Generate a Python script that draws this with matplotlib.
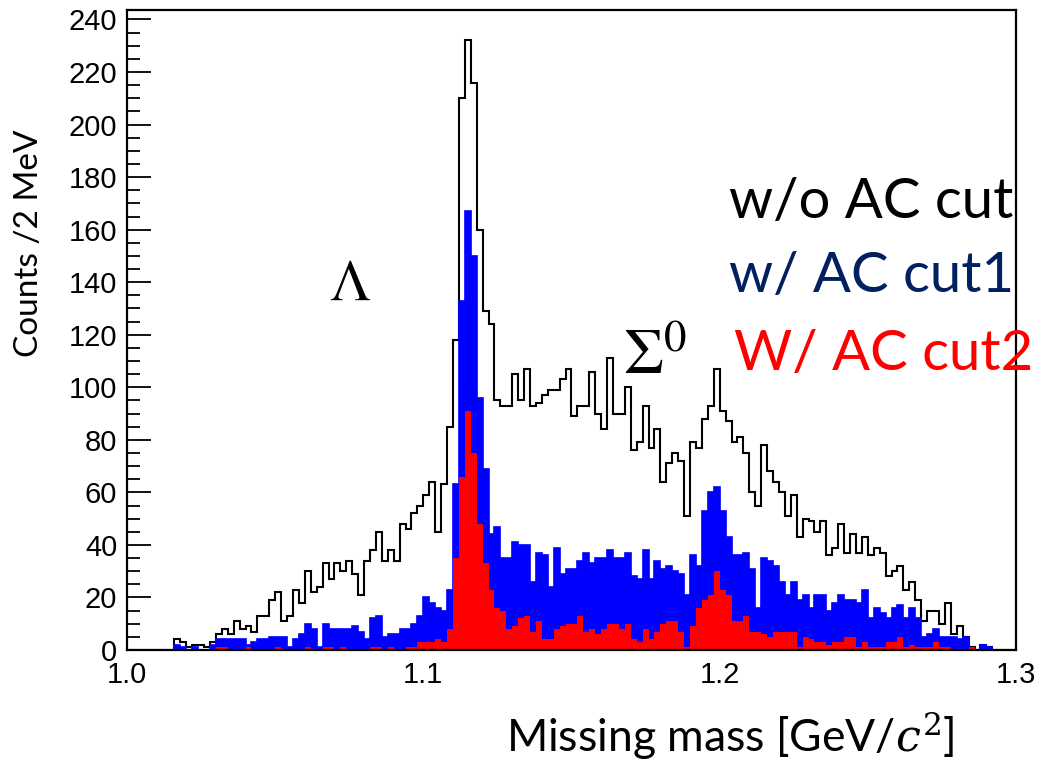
import numpy as np
import matplotlib
matplotlib.use("Agg")
import matplotlib.pyplot as plt

# ---- data: 2 MeV bins from 1.000 to 1.300 GeV/c^2 (150 bins) ----
x_min, x_max, bin_width = 1.0, 1.3, 0.002

counts_no_cut = [
    0, 0, 0, 0, 0, 0, 0, 0, 4, 3,
    1, 2, 2, 1, 3, 6, 8, 6, 11, 8,
    9, 7, 13, 13, 19, 22, 11, 13, 23, 18,
    30, 22, 24, 33, 27, 33, 30, 34, 29, 21,
    34, 38, 45, 34, 38, 34, 48, 46, 52, 55,
    59, 64, 45, 63, 85, 118, 210, 232, 216, 160,
    129, 124, 95, 93, 93, 105, 95, 107, 93, 94,
    97, 99, 99, 103, 107, 89, 93, 93, 106, 90,
    84, 111, 90, 90, 100, 76, 79, 93, 77, 84,
    64, 71, 75, 72, 51, 79, 77, 88, 93, 107,
    91, 87, 79, 81, 75, 60, 55, 78, 68, 64,
    60, 51, 59, 43, 50, 49, 45, 49, 36, 39,
    48, 37, 44, 37, 43, 36, 39, 37, 28, 30,
    32, 23, 26, 19, 11, 15, 15, 10, 18, 6,
    9, 5, 1, 0, 2, 1, 0, 0, 0, 0,
]

counts_cut1 = [
    0, 0, 0, 0, 0, 0, 0, 0, 2, 1,
    0, 1, 0, 0, 2, 4, 4, 4, 4, 4,
    2, 3, 4, 4, 5, 5, 5, 1, 4, 6,
    10, 8, 1, 10, 8, 8, 8, 8, 9, 7,
    4, 12, 13, 5, 6, 6, 8, 8, 10, 13,
    20, 18, 16, 15, 23, 63, 133, 167, 150, 96,
    69, 44, 47, 35, 35, 41, 40, 40, 26, 37,
    36, 24, 39, 29, 31, 31, 34, 37, 33, 35,
    35, 38, 35, 35, 37, 28, 27, 38, 27, 34,
    31, 32, 30, 29, 21, 36, 32, 53, 60, 62,
    53, 43, 36, 36, 37, 31, 16, 35, 34, 32,
    26, 21, 26, 19, 21, 16, 21, 21, 15, 18,
    21, 19, 19, 18, 23, 12, 16, 14, 12, 16,
    17, 12, 16, 12, 5, 6, 8, 5, 5, 5,
    4, 5, 0, 0, 2, 1, 0, 0, 0, 0,
]

counts_cut2 = [
    0, 0, 0, 0, 0, 0, 0, 0, 0, 0,
    0, 0, 0, 0, 0, 1, 1, 0, 0, 0,
    1, 0, 0, 0, 0, 1, 0, 0, 0, 0,
    1, 0, 0, 1, 1, 0, 1, 0, 0, 0,
    0, 1, 1, 0, 1, 0, 0, 1, 1, 3,
    3, 3, 4, 3, 8, 35, 66, 91, 75, 48,
    33, 23, 16, 15, 8, 9, 12, 13, 7, 11,
    4, 4, 8, 9, 10, 10, 13, 7, 8, 6,
    8, 10, 10, 8, 10, 4, 3, 8, 4, 7,
    10, 11, 11, 7, 1, 9, 16, 19, 21, 30,
    23, 21, 11, 11, 13, 7, 7, 6, 5, 7,
    7, 7, 7, 1, 5, 4, 3, 3, 2, 3,
    3, 5, 5, 1, 3, 1, 1, 1, 3, 3,
    5, 1, 2, 1, 1, 1, 3, 1, 1, 0,
    0, 0, 1, 0, 0, 0, 0, 0, 0, 0,
]

x_ticks = [1.0, 1.1, 1.2, 1.3]
x_tick_labels = ["1.0", "1.1", "1.2", "1.3"]
y_ticks = list(range(0, 241, 20))

legend_labels = ["w/o AC cut", "w/ AC cut1", "W/ AC cut2"]
legend_colors = ["black", "#002060", "#ff0000"]

# ---- figure ----
W, H = 1040, 762
fig = plt.figure(figsize=(W / 100, H / 100), dpi=100)

def fx(px):
    return px / W

def fy(py):
    return 1 - py / H

ax = fig.add_axes([fx(127), fy(650), fx(1016) - fx(127), fy(10) - fy(650)])

edges = np.linspace(x_min, x_max, len(counts_no_cut) + 1)

ax.stairs(counts_no_cut, edges, color="black", lw=1.5, zorder=2)
ax.stairs(counts_cut1, edges, fill=True, color="#0000ff", zorder=3)
ax.stairs(counts_cut1, edges, color="#0000ff", lw=1.2, zorder=3)
ax.stairs(counts_cut2, edges, fill=True, color="#ff0000", zorder=4)

ax.set_xlim(x_min, x_max)
ax.set_ylim(0, 1.05 * max(counts_no_cut))

tick_font = dict(family=["Liberation Sans", "DejaVu Sans"], size=21)
ax.set_xticks(x_ticks)
ax.set_xticklabels(x_tick_labels, fontdict=tick_font)
ax.set_yticks(y_ticks)
ax.set_yticklabels([str(v) for v in y_ticks], fontdict=tick_font)
ax.set_yticks(np.arange(0, 241, 5), minor=True)

ax.tick_params(axis="y", which="major", direction="in", length=17, width=1.3,
               pad=7, color="black")
ax.tick_params(axis="y", which="minor", direction="in", length=9, width=1.3,
               color="black")
ax.tick_params(axis="x", which="both", length=0, pad=8)

for side in ["left", "right", "top", "bottom"]:
    ax.spines[side].set_linewidth(1.6)
    ax.spines[side].set_color("black")
    ax.spines[side].set_zorder(5)

# ---- texts ----
label_font = ["Lato", "DejaVu Sans"]
fig.text(fx(29), fy(243), "Counts /2 MeV", rotation=90, ha="center",
         va="center", fontsize=24, family=label_font)
fig.text(fx(506), fy(752), r"Missing mass [GeV/$c^2$]", ha="left",
         va="baseline", fontsize=32, family=label_font,
         math_fontfamily="dejavuserif")

leg_y = [218, 292, 370]
leg_x = [729, 729, 734]
for lab, col, lx, ly in zip(legend_labels, legend_colors, leg_x, leg_y):
    fig.text(fx(lx), fy(ly), lab, color=col, ha="left", va="baseline",
             fontsize=40.5, family=label_font)

fig.text(fx(329), fy(300), r"$\Lambda$", ha="left", va="baseline",
         fontsize=42, math_fontfamily="stix")
fig.text(fx(623), fy(374), r"$\Sigma^0$", ha="left", va="baseline",
         fontsize=46, math_fontfamily="stix")

fig.savefig("out.png", dpi=100, facecolor="white")
